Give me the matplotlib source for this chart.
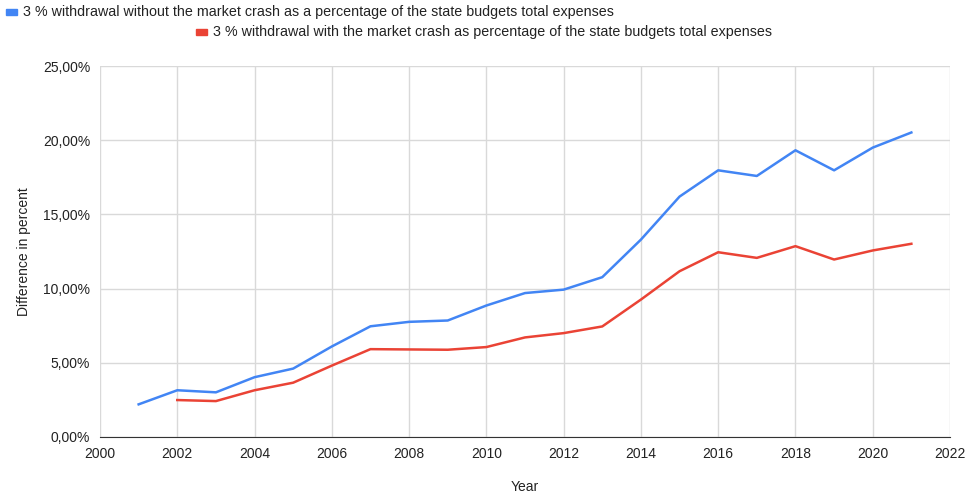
import matplotlib.pyplot as plt
from matplotlib.patches import Rectangle
from matplotlib.ticker import FuncFormatter, MultipleLocator

plt.rcParams['font.family'] = ['Liberation Sans', 'DejaVu Sans']

# Withdrawal share of state budget total expenses, in percent
years_no_crash = list(range(2001, 2022))
no_crash = [2.20, 3.15, 3.01, 4.03, 4.61, 6.10, 7.46, 7.76, 7.85, 8.86, 9.70,
            9.93, 10.77, 13.30, 16.20, 17.97, 17.59, 19.32, 17.97, 19.50, 20.52]

years_crash = list(range(2002, 2022))
with_crash = [2.49, 2.42, 3.15, 3.66, 4.81, 5.92, 5.90, 5.88, 6.06, 6.71,
              7.00, 7.45, 9.26, 11.17, 12.45, 12.07, 12.86, 11.96, 12.57, 13.02]

label_no_crash = "3 % withdrawal without the market crash as a percentage of the state budgets total expenses"
label_crash = "3 % withdrawal with the market crash as percentage of the state budgets total expenses"

blue = '#4285F4'
red = '#EA4335'

fig = plt.figure(figsize=(9.69, 4.97), dpi=100)
ax = fig.add_axes([100 / 969, 1 - 437 / 497, 850 / 969, 371 / 497])

ax.plot(years_no_crash, no_crash, color=blue, lw=1.8)
ax.plot(years_crash, with_crash, color=red, lw=1.8)

ax.set_xlim(2000, 2022)
ax.set_ylim(0, 25)
ax.xaxis.set_major_locator(MultipleLocator(2))
ax.yaxis.set_major_locator(MultipleLocator(5))
ax.yaxis.set_major_formatter(FuncFormatter(lambda v, _: f"{v:.2f}".replace('.', ',') + "%"))

ax.grid(True, color='#d9d9d9', lw=1)
ax.set_axisbelow(True)
for side in ['top', 'right', 'left']:
    ax.spines[side].set_visible(False)
ax.spines['bottom'].set_color('#333333')
ax.tick_params(length=0, labelsize=10, colors='#222222', pad=7)

ax.set_xlabel("Year", fontsize=10, color='#222222', labelpad=14)
ax.set_ylabel("Difference in percent", fontsize=10, color='#222222', labelpad=9)

# legend entries laid out in two rows
def legend_entry(x, y, color, text):
    fig.patches.append(Rectangle((x / 969, 1 - (y + 3) / 497), 11 / 969, 6 / 497,
                                 color=color, transform=fig.transFigure))
    fig.text((x + 17) / 969, 1 - y / 497, text, fontsize=10.3, color='#222222', va='center')

legend_entry(6, 12, blue, label_no_crash)
legend_entry(196, 32, red, label_crash)

fig.savefig('out.png', dpi=100, facecolor='white')
